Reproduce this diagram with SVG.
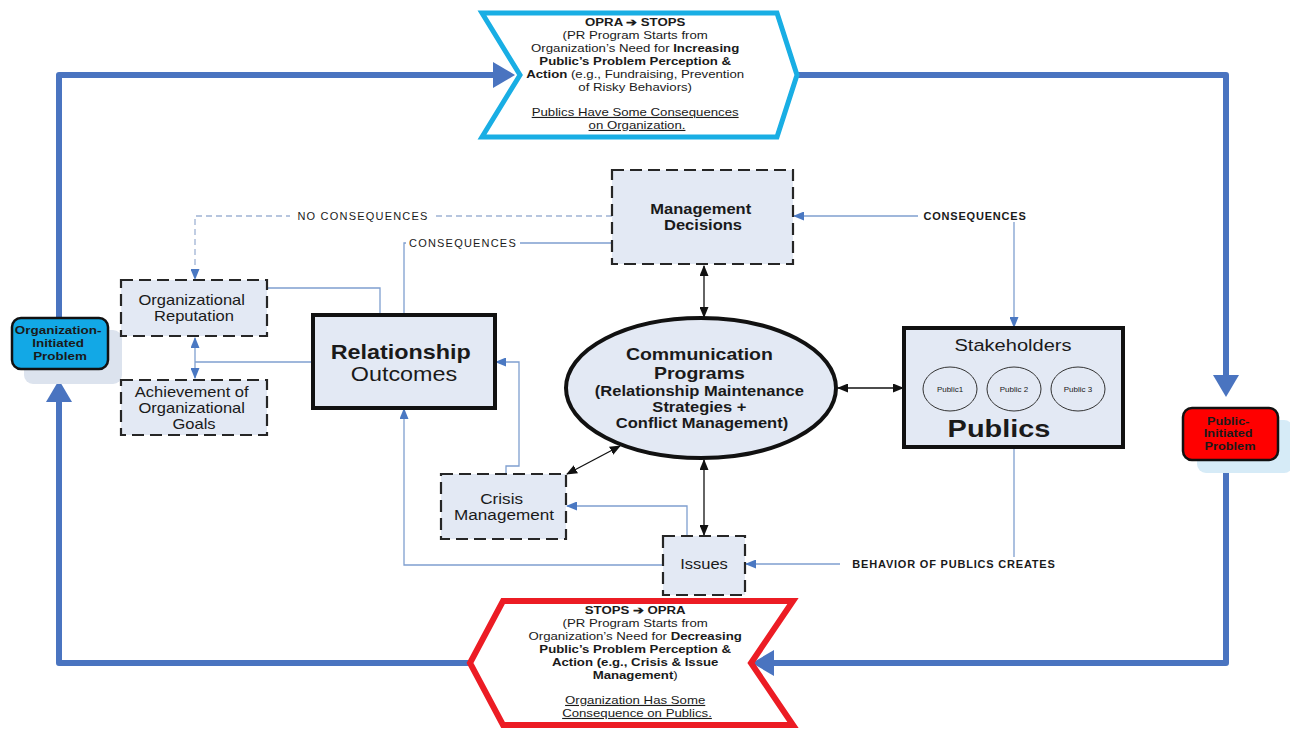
<svg xmlns="http://www.w3.org/2000/svg" width="1290" height="729" viewBox="0 0 1290 729">
<style>
text{font-family:"Liberation Sans",Arial,sans-serif;fill:#1a1a1a;text-anchor:middle}
.b{font-weight:bold}
.u{text-decoration:underline}
.node{fill:#e3e9f4}
.dash{stroke:#262626;stroke-width:2.2;stroke-dasharray:12 6}
.solid{stroke:#111;stroke-width:4}
.loop{fill:none;stroke:#4a74c0;stroke-width:6;stroke-linejoin:round}
.thin{fill:none;stroke:#7f9fcf;stroke-width:1.3}
.thindash{fill:none;stroke:#9fb3d4;stroke-width:1.3;stroke-dasharray:6 4}
.blk{fill:none;stroke:#111;stroke-width:1.3}
.lbl{font-size:11px}
</style>
<defs>
<marker id="big" markerUnits="userSpaceOnUse" markerWidth="24" markerHeight="26" refX="8" refY="13" orient="auto"><path d="M0,0 L22,13 L0,26 z" fill="#4a74c0"/></marker>
<marker id="ba" markerUnits="userSpaceOnUse" markerWidth="11" markerHeight="9" refX="10" refY="4.5" orient="auto"><path d="M0,0 L11,4.5 L0,9 z" fill="#4a78c2"/></marker>
<marker id="bs" markerUnits="userSpaceOnUse" markerWidth="11" markerHeight="9" refX="10" refY="4.5" orient="auto-start-reverse"><path d="M0,0 L11,4.5 L0,9 z" fill="#4a78c2"/></marker>
<marker id="ka" markerUnits="userSpaceOnUse" markerWidth="11" markerHeight="9" refX="10" refY="4.5" orient="auto-start-reverse"><path d="M0,0 L11,4.5 L0,9 z" fill="#111"/></marker>
</defs>
<rect width="1290" height="729" fill="#fff"/>

<g id="connectors">
<path class="loop" d="M59,318 V75 H501" marker-end="url(#big)"/>
<path class="loop" d="M795,75 H1226 V383" marker-end="url(#big)"/>
<path class="loop" d="M1226,460 V663 H766" marker-end="url(#big)"/>
<path class="loop" d="M470,663 H59 V394" marker-end="url(#big)"/>

<path class="thindash" d="M612,216 H195 V279" marker-end="url(#ba)"/>
<rect x="290" y="209" width="146" height="14" fill="#fff"/>
<text class="lbl" x="363" y="220" fill="#333" letter-spacing="1.2">NO CONSEQUENCES</text>

<path class="thin" d="M612,243 H404 V315"/>
<rect x="406" y="236" width="114" height="14" fill="#fff"/>
<text class="lbl" x="463" y="247" letter-spacing="1.2">CONSEQUENCES</text>

<path class="thin" d="M267,288 H380 V315"/>
<path class="thin" d="M313,362 H195"/>
<path class="thin" d="M195,338 V378" marker-start="url(#bs)" marker-end="url(#ba)"/>
<path class="thin" d="M506,474 V466 H519 V362 H496" marker-end="url(#ba)"/>
<path class="thin" d="M663,565 H404 V409" marker-end="url(#ba)"/>
<path class="thin" d="M687,536 V506 H567" marker-end="url(#ba)"/>
<path class="thin" d="M1014,447 V564 H746" marker-end="url(#ba)"/>
<rect x="840" y="557" width="228" height="14" fill="#fff"/>
<text class="lbl b" x="954" y="568" letter-spacing="0.8">BEHAVIOR OF PUBLICS CREATES</text>

<path class="thin" d="M1014,222 V327" marker-end="url(#ba)"/>
<path class="thin" d="M918,216 H794" marker-end="url(#ba)"/>
<text class="lbl b" x="975" y="220" letter-spacing="0.8">CONSEQUENCES</text>

<path class="blk" d="M704,266 V317" marker-start="url(#ka)" marker-end="url(#ka)"/>
<path class="blk" d="M838,388 H903" marker-start="url(#ka)" marker-end="url(#ka)"/>
<path class="blk" d="M620,446 L567,474" marker-start="url(#ka)" marker-end="url(#ka)"/>
<path class="blk" d="M704,460 V535" marker-start="url(#ka)" marker-end="url(#ka)"/>
</g>

<g id="opra-stops">
<polygon points="482,13 777,13 797,75 777,137 482,137 520,75" fill="#fff" stroke="#19aee4" stroke-width="5" stroke-linejoin="miter"/>
<text transform="translate(637 0) scale(1.18 1)" font-size="11.2">
<tspan class="b" x="0" y="26">OPRA ➔ STOPS</tspan>
<tspan x="0" y="39">(PR Program Starts from</tspan>
<tspan x="0" y="52">Organization’s Need for <tspan class="b">Increasing</tspan></tspan>
<tspan class="b" x="0" y="65">Public’s Problem Perception &amp;</tspan>
<tspan x="0" y="78"><tspan class="b">Action</tspan> (e.g., Fundraising, Prevention</tspan>
<tspan x="0" y="91">of Risky Behaviors)</tspan>
<tspan class="u" x="0" y="116">Publics Have Some Consequences</tspan>
<tspan class="u" x="0" y="129">on Organization.</tspan>
</text>
</g>

<g id="stops-opra">
<polygon points="503,601 793,601 751,663 793,725 503,725 470,663" fill="#fff" stroke="#ec1c24" stroke-width="6" stroke-linejoin="miter"/>
<text transform="translate(637 0) scale(1.18 1)" font-size="11.2">
<tspan class="b" x="0" y="614">STOPS ➔ OPRA</tspan>
<tspan x="0" y="627">(PR Program Starts from</tspan>
<tspan x="0" y="640">Organization’s Need for <tspan class="b">Decreasing</tspan></tspan>
<tspan class="b" x="0" y="653">Public’s Problem Perception &amp;</tspan>
<tspan class="b" x="0" y="666">Action (e.g., Crisis &amp; Issue</tspan>
<tspan x="0" y="679"><tspan class="b">Management</tspan>)</tspan>
<tspan class="u" x="0" y="704">Organization Has Some</tspan>
<tspan class="u" x="0" y="717">Consequence on Publics.</tspan>
</text>
</g>

<g id="org-initiated">
<rect x="24" y="330" width="98" height="54" rx="9" fill="#dce3ee"/>
<rect x="12" y="318" width="96" height="51" rx="9" fill="#12a8e6" stroke="#111" stroke-width="2.5"/>
<text class="b" transform="translate(60 0) scale(1.18 1)" font-size="11.4" fill="#102030">
<tspan x="0" y="334">Organization-</tspan>
<tspan x="0" y="347">Initiated</tspan>
<tspan x="0" y="360">Problem</tspan>
</text>
</g>

<g id="public-initiated">
<rect x="1197" y="420" width="96" height="53" rx="9" fill="#d6ebf7"/>
<rect x="1183" y="408" width="95" height="52" rx="9" fill="#ff0000" stroke="#111" stroke-width="2.5"/>
<text class="b" transform="translate(1230 0) scale(1.18 1)" font-size="10.8" fill="#5c0a0a">
<tspan x="0" y="425">Public-</tspan>
<tspan x="0" y="437">Initiated</tspan>
<tspan x="0" y="450">Problem</tspan>
</text>
</g>

<g id="management-decisions">
<rect class="node dash" x="612" y="170" width="181" height="94"/>
<text class="b" transform="translate(703 0) scale(1.18 1)" font-size="14">
<tspan x="0" y="214">Management</tspan>
<tspan x="0" y="230">Decisions</tspan>
</text>
</g>

<g id="organizational-reputation">
<rect class="node dash" x="121" y="280" width="146" height="56"/>
<text transform="translate(194 0) scale(1.18 1)" font-size="14">
<tspan x="0" y="305">Organizational</tspan>
<tspan x="0" y="321">Reputation</tspan>
</text>
</g>

<g id="achievement-goals">
<rect class="node dash" x="121" y="380" width="146" height="55"/>
<text transform="translate(194 0) scale(1.18 1)" font-size="14">
<tspan x="0" y="397">Achievement of</tspan>
<tspan x="0" y="413">Organizational</tspan>
<tspan x="0" y="429">Goals</tspan>
</text>
</g>

<g id="relationship-outcomes">
<rect class="node solid" x="313" y="315" width="182" height="93"/>
<text transform="translate(404 0) scale(1.18 1)" font-size="19.8">
<tspan class="b" x="0" y="359">Relationship</tspan>
<tspan x="0" y="381">Outcomes</tspan>
</text>
</g>

<g id="communication-programs">
<ellipse class="node solid" cx="701" cy="388" rx="135" ry="70"/>
<text class="b" transform="translate(702 0) scale(1.18 1)">
<tspan x="0" y="360" font-size="16.5">Communication</tspan>
<tspan x="0" y="379" font-size="16.5">Programs</tspan>
<tspan x="0" y="396" font-size="14">(Relationship Maintenance</tspan>
<tspan x="0" y="412" font-size="14">Strategies +</tspan>
<tspan x="0" y="428" font-size="14">Conflict Management)</tspan>
</text>
</g>

<g id="publics">
<rect class="node solid" x="904" y="328" width="219" height="119"/>
<text transform="translate(1013 0) scale(1.18 1)" font-size="17"><tspan x="0" y="351">Stakeholders</tspan></text>
<ellipse cx="950" cy="389" rx="27" ry="22" fill="none" stroke="#333" stroke-width="1"/>
<ellipse cx="1014" cy="389" rx="27" ry="22" fill="none" stroke="#333" stroke-width="1"/>
<ellipse cx="1078" cy="389" rx="27" ry="22" fill="none" stroke="#333" stroke-width="1"/>
<text x="950" y="392" font-size="8">Public1</text>
<text x="1014" y="392" font-size="8">Public 2</text>
<text x="1078" y="392" font-size="8">Public 3</text>
<text class="b" transform="translate(999 0) scale(1.18 1)" font-size="24.5"><tspan x="0" y="437">Publics</tspan></text>
</g>

<g id="crisis-management">
<rect class="node dash" x="441" y="474" width="125" height="65"/>
<text transform="translate(504 0) scale(1.18 1)" font-size="14.5">
<tspan x="0" y="504">Crisis</tspan>
<tspan x="0" y="520">Management</tspan>
</text>
</g>

<g id="issues">
<rect class="node dash" x="663" y="536" width="82" height="59"/>
<text transform="translate(704 0) scale(1.18 1)" font-size="14"><tspan x="0" y="569">Issues</tspan></text>
</g>
</svg>
